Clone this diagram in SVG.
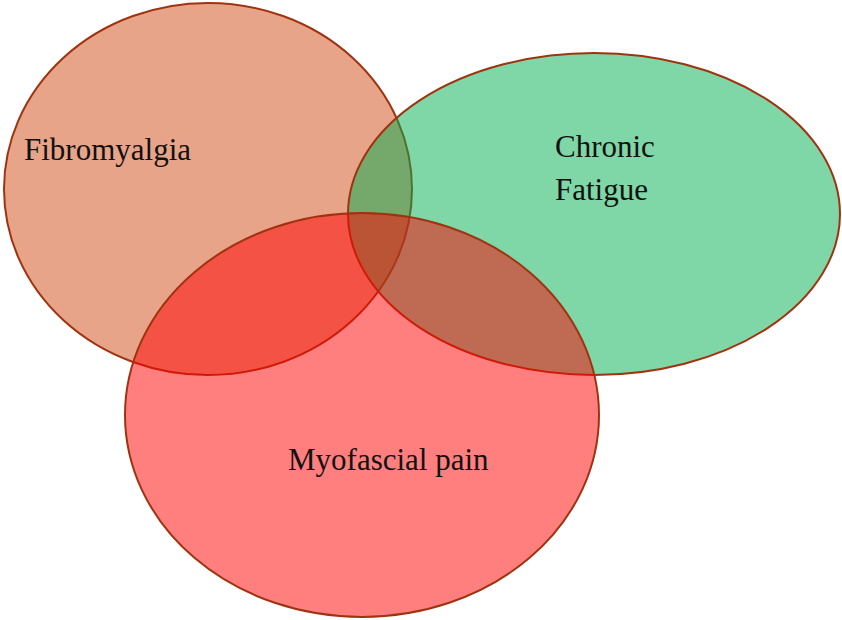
<svg xmlns="http://www.w3.org/2000/svg" width="842" height="620" viewBox="0 0 842 620">
<style>
.set{stroke:#A0330F;stroke-width:2;fill-opacity:0.5}
.lbl{font-family:"Liberation Serif","DejaVu Serif",serif;font-size:31px;fill:#111}
</style>
<rect width="842" height="620" fill="#fff"/>
<g id="fibromyalgia">
<ellipse class="set" cx="208" cy="189" rx="204" ry="186" fill="#D14911"/>
</g>
<g id="chronic-fatigue">
<ellipse class="set" cx="594" cy="214" rx="246" ry="161" fill="#00AD4D"/>
</g>
<g id="myofascial-pain">
<ellipse class="set" cx="362" cy="415" rx="237" ry="202" fill="#FF0000"/>
</g>
<g id="labels">
<text class="lbl" x="24" y="160">Fibromyalgia</text>
<text class="lbl" x="555" y="157">Chronic</text>
<text class="lbl" x="555" y="200">Fatigue</text>
<text class="lbl" x="288" y="470">Myofascial pain</text>
</g>
<g id="connectors"></g>
</svg>
